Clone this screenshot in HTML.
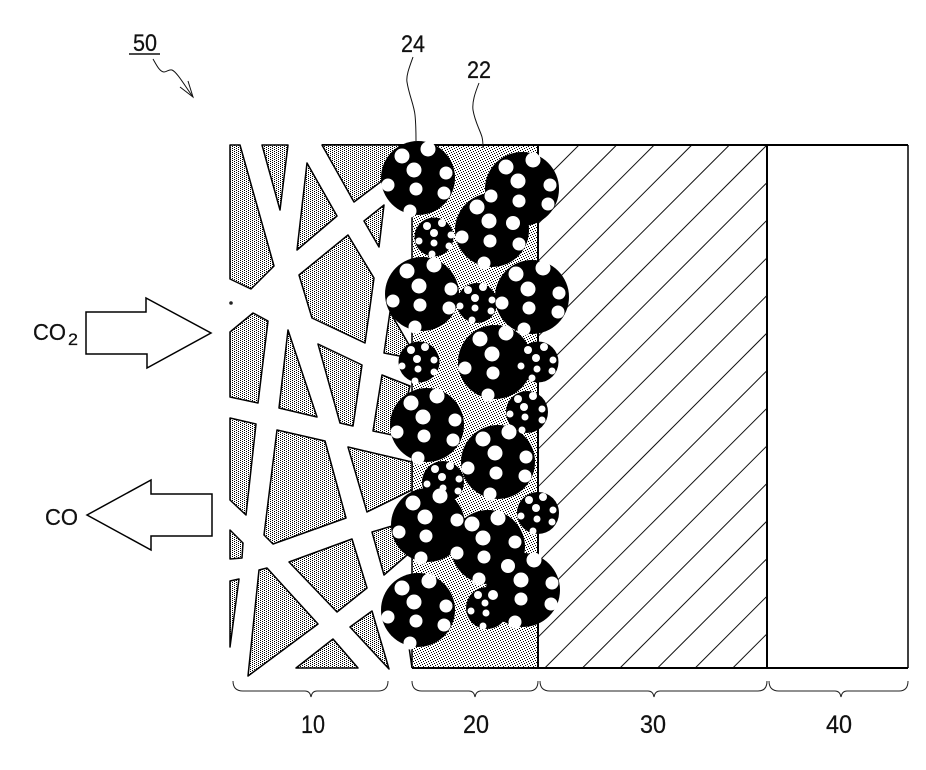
<!DOCTYPE html>
<html>
<head>
<meta charset="utf-8">
<style>
html,body{margin:0;padding:0;background:#fff;width:926px;height:770px;overflow:hidden;}
svg{display:block;}
text{font-family:"Liberation Sans",sans-serif;fill:#111;stroke:#111;stroke-width:.25;}
</style>
</head>
<body>
<svg width="926" height="770" viewBox="0 0 926 770" xmlns="http://www.w3.org/2000/svg">
<defs>
<pattern id="st1" width="4" height="2" patternUnits="userSpaceOnUse">
<rect width="4" height="2" fill="#fff"/>
<g fill="#000" shape-rendering="crispEdges">
<rect x="0" y="0" width="1" height="1"/><rect x="2" y="1" width="1" height="1"/>
</g>
</pattern>
<pattern id="st2" width="5" height="5" patternUnits="userSpaceOnUse">
<rect width="5" height="5" fill="#fff"/>
<g fill="#000" shape-rendering="crispEdges">
<rect x="0" y="0" width="1" height="1"/><rect x="3" y="1" width="1" height="1"/>
<rect x="1" y="2" width="1" height="1"/><rect x="4" y="3" width="1" height="1"/>
<rect x="2" y="4" width="1" height="1"/>
</g>
</pattern>
</defs>

<!-- Layer 20 stipple -->
<rect x="412" y="145" width="126" height="523" fill="url(#st2)"/>

<!-- Layer 30 hatching -->
<g stroke="#111" stroke-width="1" fill="none">
<line x1="579" y1="145" x2="538" y2="186"/>
<line x1="616.6" y1="145" x2="538" y2="223.6"/>
<line x1="654.2" y1="145" x2="538" y2="261.2"/>
<line x1="691.8" y1="145" x2="538" y2="298.8"/>
<line x1="729.4" y1="145" x2="538" y2="336.4"/>
<line x1="767" y1="145" x2="538" y2="374"/>
<line x1="767" y1="182.6" x2="538" y2="411.6"/>
<line x1="767" y1="220.2" x2="538" y2="449.2"/>
<line x1="767" y1="257.8" x2="538" y2="486.8"/>
<line x1="767" y1="295.4" x2="538" y2="524.4"/>
<line x1="767" y1="333" x2="538" y2="562"/>
<line x1="767" y1="370.6" x2="538" y2="599.6"/>
<line x1="767" y1="408.2" x2="538" y2="637.2"/>
<line x1="767" y1="445.8" x2="544.8" y2="668"/>
<line x1="767" y1="483.4" x2="582.4" y2="668"/>
<line x1="767" y1="521" x2="620" y2="668"/>
<line x1="767" y1="558.6" x2="657.6" y2="668"/>
<line x1="767" y1="596.2" x2="695.2" y2="668"/>
<line x1="767" y1="633.8" x2="732.8" y2="668"/>
</g>

<!-- Frame lines -->
<g stroke="#000" fill="none">
<path d="M322 145H908" stroke-width="2"/>
<path d="M412 668H908" stroke-width="2"/>
<path d="M908 145V668" stroke-width="1.5"/>
<path d="M767 145V668" stroke-width="2"/>
<path d="M538 145V668" stroke-width="2"/>
<path d="M412 215V668" stroke-width="1.5"/>
<path d="M408 640L412 668" stroke-width="1.5"/>
</g>

<!-- Layer 10 polygons -->
<g fill="url(#st1)" stroke="#000" stroke-width="1.5" stroke-linejoin="round">
<polygon points="230,145 240,145 274,266 251,289 230,279"/>
<polygon points="262,145 288,145 280,210"/>
<polygon points="322,145 400,145 383,180 354,202"/>
<polygon points="307,163 337,216 297,250"/>
<polygon points="384,205 379,247 364,221"/>
<polygon points="348,235 374,278 365,343 312,318 299,275"/>
<polygon points="253,313 268,321 258,403 230,397 230,332"/>
<polygon points="288,330 317,417 279,408"/>
<polygon points="318,344 362,365 353,426 340,423"/>
<polygon points="390,312 412,350 410,358 384,353"/>
<polygon points="382,375 410,386 397,436 373,431"/>
<polygon points="230,418 256,424 246,515 230,500"/>
<polygon points="277,430 325,441 346,518 273,544 264,535"/>
<polygon points="348,447 412,462 412,490 367,512"/>
<polygon points="230,530 243,543 242,558 230,559"/>
<polygon points="289,562 352,539 367,588 337,612"/>
<polygon points="372,532 392,526 407,555 384,575"/>
<polygon points="230,581 239,579 230,647"/>
<polygon points="259,570 267,568 318,624 248,676"/>
<polygon points="333,639 358,668 296,668"/>
<polygon points="372,611 389,669 350,627"/>
</g>
<circle cx="231" cy="303" r="1.8" fill="#222"/>

<!-- Black particles -->
<g fill="#000">
<circle cx="418" cy="178" r="37"/>
<circle cx="522" cy="189" r="37"/>
<circle cx="492" cy="230" r="37"/>
<circle cx="434" cy="237" r="19.5"/>
<circle cx="422" cy="294" r="37"/>
<circle cx="532" cy="297" r="37"/>
<circle cx="477" cy="303" r="20"/>
<circle cx="495" cy="362" r="37"/>
<circle cx="538" cy="362" r="20.5"/>
<circle cx="419" cy="362" r="20.5"/>
<circle cx="427" cy="425" r="37"/>
<circle cx="527" cy="412" r="21"/>
<circle cx="498" cy="462" r="37"/>
<circle cx="443" cy="482" r="21"/>
<circle cx="428" cy="525" r="37"/>
<circle cx="488" cy="547" r="37"/>
<circle cx="538" cy="513" r="21"/>
<circle cx="523" cy="590" r="37"/>
<circle cx="487" cy="608" r="21"/>
<circle cx="418" cy="610" r="37"/>
</g>

<!-- Large white dots -->
<g fill="#fff">
<circle cx="402" cy="156" r="7.5"/><circle cx="428" cy="149" r="7.5"/><circle cx="414" cy="170" r="7.5"/><circle cx="446" cy="173" r="6.5"/><circle cx="388" cy="185" r="6.5"/><circle cx="416" cy="189" r="6.5"/><circle cx="444" cy="193" r="6.5"/><circle cx="410" cy="211" r="6.5"/>
<circle cx="491" cy="196" r="6.5"/><circle cx="477" cy="207" r="7.5"/><circle cx="513" cy="223" r="7"/><circle cx="489" cy="221" r="7.5"/><circle cx="462" cy="237" r="6.5"/><circle cx="490" cy="241" r="6.5"/><circle cx="519" cy="244" r="6.5"/><circle cx="484" cy="263" r="6.5"/>
<circle cx="506" cy="167" r="7.5"/><circle cx="533" cy="160" r="7.5"/><circle cx="518" cy="181" r="7.5"/><circle cx="550" cy="185" r="6.5"/><circle cx="519" cy="201" r="6.5"/><circle cx="548" cy="204" r="6.5"/>
<circle cx="407" cy="271" r="7.5"/><circle cx="434" cy="265" r="7.5"/><circle cx="419" cy="286" r="7.5"/><circle cx="451" cy="289" r="6.5"/><circle cx="393" cy="301" r="6.5"/><circle cx="420" cy="305" r="6.5"/><circle cx="449" cy="308" r="6.5"/><circle cx="415" cy="327" r="6.5"/>
<circle cx="516" cy="274" r="7.5"/><circle cx="543" cy="268" r="7.5"/><circle cx="528" cy="289" r="7.5"/><circle cx="559" cy="293" r="6.5"/><circle cx="502" cy="303" r="6.5"/><circle cx="529" cy="308" r="6.5"/><circle cx="558" cy="312" r="6.5"/><circle cx="524" cy="329" r="6.5"/>
<circle cx="480" cy="339" r="7.5"/><circle cx="506" cy="333" r="7.5"/><circle cx="492" cy="354" r="7.5"/><circle cx="465" cy="368" r="6.5"/><circle cx="493" cy="373" r="6.5"/><circle cx="488" cy="395" r="6.5"/>
<circle cx="411" cy="403" r="7.5"/><circle cx="437" cy="396" r="7.5"/><circle cx="423" cy="417" r="7.5"/><circle cx="455" cy="420" r="6.5"/><circle cx="397" cy="432" r="6.5"/><circle cx="424" cy="436" r="6.5"/><circle cx="453" cy="440" r="6.5"/><circle cx="418" cy="458" r="6.5"/>
<circle cx="483" cy="439" r="7.5"/><circle cx="509" cy="432" r="7.5"/><circle cx="495" cy="453" r="7.5"/><circle cx="526" cy="457" r="6.5"/><circle cx="468" cy="468" r="6.5"/><circle cx="496" cy="473" r="6.5"/><circle cx="525" cy="476" r="6.5"/><circle cx="490" cy="494" r="6.5"/>
<circle cx="413" cy="503" r="7.5"/><circle cx="440" cy="496" r="7.5"/><circle cx="425" cy="517" r="7.5"/><circle cx="457" cy="520" r="6.5"/><circle cx="399" cy="532" r="6.5"/><circle cx="426" cy="536" r="6.5"/><circle cx="421" cy="558" r="6.5"/>
<circle cx="472" cy="524" r="7.5"/><circle cx="498" cy="518" r="7.5"/><circle cx="483" cy="538" r="7.5"/><circle cx="515" cy="542" r="6.5"/><circle cx="457" cy="553" r="6.5"/><circle cx="484" cy="557" r="6.5"/><circle cx="508" cy="566" r="7"/><circle cx="479" cy="579" r="6.5"/>
<circle cx="534" cy="560" r="7.5"/><circle cx="521" cy="580" r="7.5"/><circle cx="552" cy="583" r="6.5"/><circle cx="521" cy="599" r="6.5"/><circle cx="551" cy="604" r="6.5"/><circle cx="515" cy="622" r="6.5"/>
<circle cx="402" cy="588" r="7.5"/><circle cx="429" cy="581" r="7.5"/><circle cx="414" cy="602" r="7.5"/><circle cx="446" cy="606" r="6.5"/><circle cx="388" cy="617" r="6.5"/><circle cx="416" cy="621" r="6.5"/><circle cx="444" cy="625" r="6.5"/><circle cx="410" cy="643" r="6.5"/>
</g>

<!-- Small white dots -->
<g fill="#fff">
<circle cx="427" cy="226" r="4"/><circle cx="442" cy="223" r="4"/><circle cx="434" cy="233" r="4"/><circle cx="419" cy="241" r="3.5"/><circle cx="451" cy="235" r="3.5"/><circle cx="434" cy="243" r="3.5"/><circle cx="449" cy="246" r="3.5"/><circle cx="432" cy="254" r="3.5"/>
<circle cx="468" cy="290" r="4"/><circle cx="483" cy="287" r="4"/><circle cx="475" cy="298" r="4"/><circle cx="460" cy="306" r="3.5"/><circle cx="492" cy="300" r="3.5"/><circle cx="475" cy="308" r="3.5"/><circle cx="491" cy="311" r="3.5"/><circle cx="472" cy="320" r="3.5"/>
<circle cx="528" cy="350" r="4"/><circle cx="544" cy="347" r="4"/><circle cx="536" cy="358" r="4"/><circle cx="521" cy="366" r="3.5"/><circle cx="553" cy="360" r="3.5"/><circle cx="537" cy="369" r="3.5"/><circle cx="552" cy="371" r="3.5"/><circle cx="532" cy="378" r="3.5"/>
<circle cx="411" cy="350" r="4"/><circle cx="425" cy="347" r="4"/><circle cx="417" cy="359" r="4"/><circle cx="402" cy="366" r="3.5"/><circle cx="434" cy="360" r="3.5"/><circle cx="418" cy="369" r="3.5"/><circle cx="434" cy="372" r="3.5"/><circle cx="415" cy="381" r="3.5"/>
<circle cx="518" cy="399" r="4"/><circle cx="533" cy="396" r="4"/><circle cx="524" cy="407" r="4"/><circle cx="510" cy="414" r="3.5"/><circle cx="542" cy="409" r="3.5"/><circle cx="525" cy="417" r="3.5"/><circle cx="542" cy="420" r="3.5"/><circle cx="522" cy="430" r="3.5"/>
<circle cx="435" cy="469" r="4"/><circle cx="450" cy="466" r="4"/><circle cx="442" cy="477" r="4"/><circle cx="427" cy="484" r="3.5"/><circle cx="459" cy="479" r="3.5"/><circle cx="443" cy="488" r="3.5"/><circle cx="458" cy="491" r="3.5"/>
<circle cx="529" cy="500" r="4"/><circle cx="543" cy="497" r="4"/><circle cx="536" cy="508" r="4"/><circle cx="521" cy="516" r="3.5"/><circle cx="553" cy="510" r="3.5"/><circle cx="537" cy="519" r="3.5"/><circle cx="552" cy="522" r="3.5"/><circle cx="533" cy="531" r="3.5"/>
<circle cx="478" cy="595" r="4"/><circle cx="493" cy="595" r="5"/><circle cx="485" cy="603" r="3.5"/><circle cx="471" cy="611" r="3.5"/><circle cx="486" cy="613" r="3.5"/><circle cx="483" cy="626" r="3.5"/>
</g>

<!-- Block arrows -->
<g fill="#fff" stroke="#000" stroke-width="1.5" stroke-linejoin="miter">
<polygon points="86,312 146,312 146,298 211,333 147,368 147,354 86,354"/>
<polygon points="87,515 151,480 151,494 212,494 212,536 151,536 151,550"/>
</g>

<!-- Leaders -->
<g fill="none" stroke="#111" stroke-width="1">
<path d="M413 57C409 68 406 76 407 82C409 95 414 105 415 115C416 125 416 133 416 141"/>
<path d="M479 83C475 93 472 102 473 110C475 122 480 130 482 137C483 141 483 144 483 148"/>
<path d="M153 59C157 66 160 72 164 72C167 72 169 69 172 70C177 72 185 86 193 97"/>
<path d="M180 87L193 97L188 81"/>
<path d="M129 54H160" stroke-width="1.5"/>
</g>

<!-- Braces -->
<g fill="none" stroke="#222" stroke-width="1">
<path d="M233 681Q233 691 243 691L305 691Q310 691 311 697Q312 691 317 691L378 691Q388 691 388 681"/>
<path d="M412 681Q412 691 422 691L469 691Q474 691 475 697Q476 691 481 691L529 691Q538 691 538 681"/>
<path d="M540 681Q540 691 550 691L648 691Q653 691 654 697Q655 691 660 691L758 691Q767 691 767 681"/>
<path d="M769 681Q769 691 779 691L835 691Q840 691 841 697Q842 691 847 691L899 691Q908 691 908 681"/>
</g>

<!-- Labels -->
<text x="133" y="51" font-size="24" textLength="24" lengthAdjust="spacingAndGlyphs">50</text>
<text x="401" y="52" font-size="24" textLength="24" lengthAdjust="spacingAndGlyphs">24</text>
<text x="467" y="78" font-size="24" textLength="24" lengthAdjust="spacingAndGlyphs">22</text>
<text x="33" y="340" font-size="23" textLength="33" lengthAdjust="spacingAndGlyphs">CO</text>
<text x="68" y="345" font-size="17" textLength="10" lengthAdjust="spacingAndGlyphs">2</text>
<text x="45" y="525" font-size="23" textLength="33" lengthAdjust="spacingAndGlyphs">CO</text>
<text x="301" y="733" font-size="25" textLength="24" lengthAdjust="spacingAndGlyphs">10</text>
<text x="463" y="733" font-size="25" textLength="26" lengthAdjust="spacingAndGlyphs">20</text>
<text x="640" y="733" font-size="25" textLength="26" lengthAdjust="spacingAndGlyphs">30</text>
<text x="826" y="733" font-size="25" textLength="26" lengthAdjust="spacingAndGlyphs">40</text>
</svg>
</body>
</html>
